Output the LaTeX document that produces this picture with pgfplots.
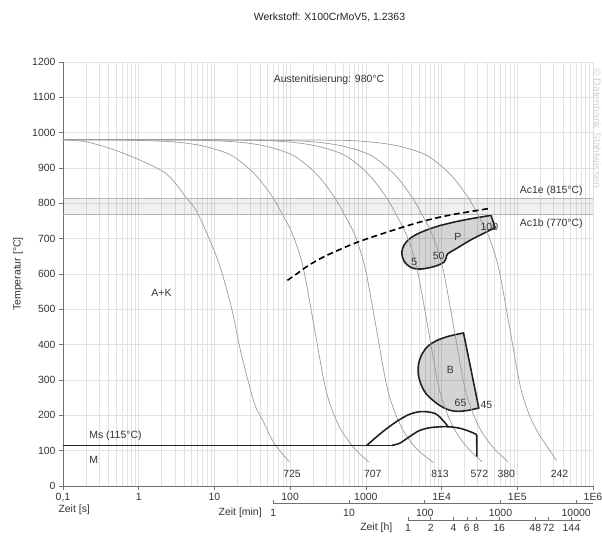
\documentclass[border=0pt]{standalone}
\usepackage{fontspec}
\setmainfont{Liberation Sans}
\usepackage{pgfplots}
\pgfplotsset{compat=1.18}

\definecolor{gridc}{HTML}{E2E2E2}
\definecolor{coolc}{HTML}{9C9C9C}
\definecolor{dark}{HTML}{222222}
\definecolor{txt}{HTML}{333333}
\definecolor{bandc}{HTML}{B4B4B4}
\definecolor{axisc}{HTML}{707070}

\pgfplotsset{
  coolcurve/.style={draw=coolc, line width=0.7pt, smooth, tension=0.5, no markers},
  zone/.style={draw=dark, line width=1.6pt, fill=black, fill opacity=0.17, smooth, tension=0.55, no markers},
  thickline/.style={draw=dark, line width=1.6pt, smooth, tension=0.5, no markers},
}

\begin{document}
\begin{tikzpicture}[font=\fontsize{10.5}{12.6}\selectfont, text=txt]
\useasboundingbox (0,0) rectangle (602bp,536bp);
\begin{axis}[
  at={(63bp,50bp)}, anchor=south west,
  scale only axis, width=530bp, height=424bp,
  xmode=log, xmin=0.1, xmax=1000000, ymin=0, ymax=1200,
  clip=false,
  axis x line*=bottom, axis y line*=left,
  axis line style={-, draw=axisc, line width=0.6pt},
  xtick={0.1,1,10,100,1000,10000,100000,1000000},
  xticklabels={{0,1},1,10,100,1000,1E4,1E5,1E6},
  minor xtick={0.2,0.3,0.4,0.5,0.6,0.7,0.8,0.9,
    2,3,4,5,6,7,8,9,20,30,40,50,60,70,80,90,
    200,300,400,500,600,700,800,900,
    2000,3000,4000,5000,6000,7000,8000,9000,
    20000,30000,40000,50000,60000,70000,80000,90000,
    200000,300000,400000,500000,600000,700000,800000,900000},
  ytick={0,100,...,1200},
  xmajorgrids, xminorgrids, ymajorgrids,
  major grid style={draw=gridc, line width=0.5pt},
  minor grid style={draw=gridc, line width=0.5pt},
  tick align=outside, major tick length=4bp, minor tick length=0pt,
  tick style={draw=axisc, line width=0.6pt},
  ticklabel style={font=\fontsize{10.5}{12.6}\selectfont, text=txt},
  /pgf/number format/assume math mode=true,
  /pgf/number format/1000 sep={},
]

% Ac band
\addplot[draw=none, fill=black, fill opacity=0.06] coordinates {(0.1,770) (1000000,770) (1000000,815) (0.1,815)} -- cycle;

% pearlite and bainite fields
\addplot[zone] coordinates {
(45000,766) (20000,753) (9140,736) (5200,717) (3800,700) (3200,682) (2980,660)
(3200,636) (3900,619) (5300,614) (8260,622) (10800,634) (11500,645) (12000,657)
(15140,670) (25060,698) (37600,717) (50900,731)} -- cycle;
\addplot[zone] coordinates {
(19500,433) (13000,425) (9140,414) (6800,398) (5600,376) (5000,348) (4900,320)
(5300,290) (6200,262) (8260,237) (11000,220) (14390,212) (19000,212) (25000,216) (31000,221)} -- cycle;

% cooling curves
\addplot[coolcurve] coordinates {(0.1,980) (0.213,973) (0.591,944) (2.2,887) (4.28,815) (6.03,771) (11,641) (16.6,509) (22.5,376) (33.6,235) (43.2,187) (61.5,121) (97,69)};
\addplot[coolcurve] coordinates {(0.1,980) (0.634,979) (2.88,974) (7.16,962) (15.3,940) (24.1,912) (37.9,872) (59.7,815) (80.9,765) (109,710) (148,620) (200,470) (272,310) (316,250) (391,195) (498,150) (716,105) (1093,68)};
\addplot[coolcurve] coordinates {(0.1,980) (4.14,979) (18.9,974) (46.9,962) (100,940) (158,912) (248,872) (391,815) (530,765) (716,710) (971,620) (1313,470) (1779,310) (2072,250) (2561,195) (3261,150) (4692,105) (7800,66)};
\addplot[coolcurve] coordinates {(0.1,980) (20,979) (91.2,974) (227,962) (483,940) (761,912) (1199,872) (1888,815) (2558,765) (3459,710) (4688,620) (6338,470) (8590,310) (10006,250) (12366,195) (15746,150) (22656,105) (34550,68)};
\addplot[coolcurve] coordinates {(0.1,980) (44,979) (200,974) (498,962) (1062,940) (1672,912) (2635,872) (4150,815) (5623,765) (7603,710) (10304,620) (13932,470) (18883,310) (21995,250) (27183,195) (34611,150) (49800,105) (75945,68)};
\addplot[coolcurve] coordinates {(0.1,980) (240,979) (1094,974) (2718,962) (5798,940) (9128,912) (14383,872) (22650,815) (30691,765) (41495,710) (56240,620) (76036,470) (103058,310) (120045,250) (148358,195) (188900,150) (260000,105) (330000,72)};

% Ac lines
\addplot[draw=bandc, line width=0.7pt] coordinates {(0.1,815) (1000000,815)};
\addplot[draw=bandc, line width=0.7pt] coordinates {(0.1,770) (1000000,770)};

% Ms line and martensite/bainite start lines
\addplot[draw=dark, line width=1.6pt] coordinates {(0.1,115) (2218,115)};
\addplot[thickline] coordinates {(2218,115) (2800,121) (3680,138) (5000,156) (7000,165) (11190,168) (16000,165) (20500,159) (26370,150) (29100,145)};
\addplot[draw=dark, line width=1.6pt] coordinates {(29100,145) (29300,83)};
\addplot[thickline] coordinates {(1031,115) (1400,140) (1900,163) (2700,186) (3680,202) (4980,210) (6500,210) (8260,205) (9590,194) (11190,178) (12360,166)};

% dashed line
\addplot[draw=black, line width=1.6pt, dash pattern=on 6bp off 3.5bp, smooth, tension=0.5] coordinates {(92,582) (125,602) (180,626) (300,652) (731,688) (1816,717) (4980,746) (12360,766) (41500,785)};

% labels in the field
\node at (axis cs:326,1150) {Austenitisierung: 980°C};
\node at (axis cs:2.0,547) {A+K};
\node[anchor=west] at (axis cs:0.2,142) {Ms (115°C)};
\node[anchor=west] at (axis cs:0.2,74) {M};
\node[anchor=west] at (axis cs:97000,835) {Ac1e (815°C)};
\node[anchor=west] at (axis cs:97000,743) {Ac1b (770°C)};
\node at (axis cs:16400,706) {P};
\node at (axis cs:4370,634) {5};
\node at (axis cs:9140,652) {50};
\node at (axis cs:42800,732) {100};
\node at (axis cs:13100,329) {B};
\node at (axis cs:17800,235) {65};
\node at (axis cs:39000,230) {45};
\node at (axis cs:106,33) {725};
\node at (axis cs:1236,33) {707};
\node at (axis cs:9550,33) {813};
\node at (axis cs:31600,33) {572};
\node at (axis cs:71600,33) {380};
\node at (axis cs:362000,33) {242};

% secondary time scales
\node[anchor=west, xshift=-8bp] at (axis cs:0.1,-68) {Zeit [s]};
\draw[draw=axisc, line width=0.6pt] (axis cs:60,-48) -- (axis cs:1000000,-48);
\pgfplotsinvokeforeach{60,600,6000,60000,600000}{
  \draw[draw=axisc, line width=0.6pt] (axis cs:#1,-48) -- ++(0bp,3bp);
}
\node[anchor=east] at (axis cs:46.9,-76) {Zeit [min]};
\node at (axis cs:60,-76) {1};
\node at (axis cs:600,-76) {10};
\node at (axis cs:6000,-76) {100};
\node at (axis cs:60000,-76) {1000};
\node at (axis cs:600000,-76) {10000};
\draw[draw=axisc, line width=0.6pt] (axis cs:3600,-96) -- (axis cs:695000,-96);
\pgfplotsinvokeforeach{3600,7200,14400,21600,28800,57600,172800,259200,518400}{
  \draw[draw=axisc, line width=0.6pt] (axis cs:#1,-96) -- ++(0bp,3bp);
}
\node[anchor=east] at (axis cs:2483,-119) {Zeit [h]};
\node at (axis cs:3600,-119) {1};
\node at (axis cs:7200,-119) {2};
\node at (axis cs:14400,-119) {4};
\node at (axis cs:21600,-119) {6};
\node at (axis cs:28800,-119) {8};
\node at (axis cs:57600,-119) {16};
\node at (axis cs:172800,-119) {48};
\node at (axis cs:259200,-119) {72};
\node at (axis cs:518400,-119) {144};
\end{axis}
\node[text=dark] at (329.5bp,519bp) {Werkstoff: X100CrMoV5, 1.2363};
\node[rotate=90] at (18bp,262bp) {Temperatur [°C]};
\node[rotate=-90, text=black!18] at (597bp,408bp) {© Datenbank Stahlwissen};
\end{tikzpicture}
\end{document}
